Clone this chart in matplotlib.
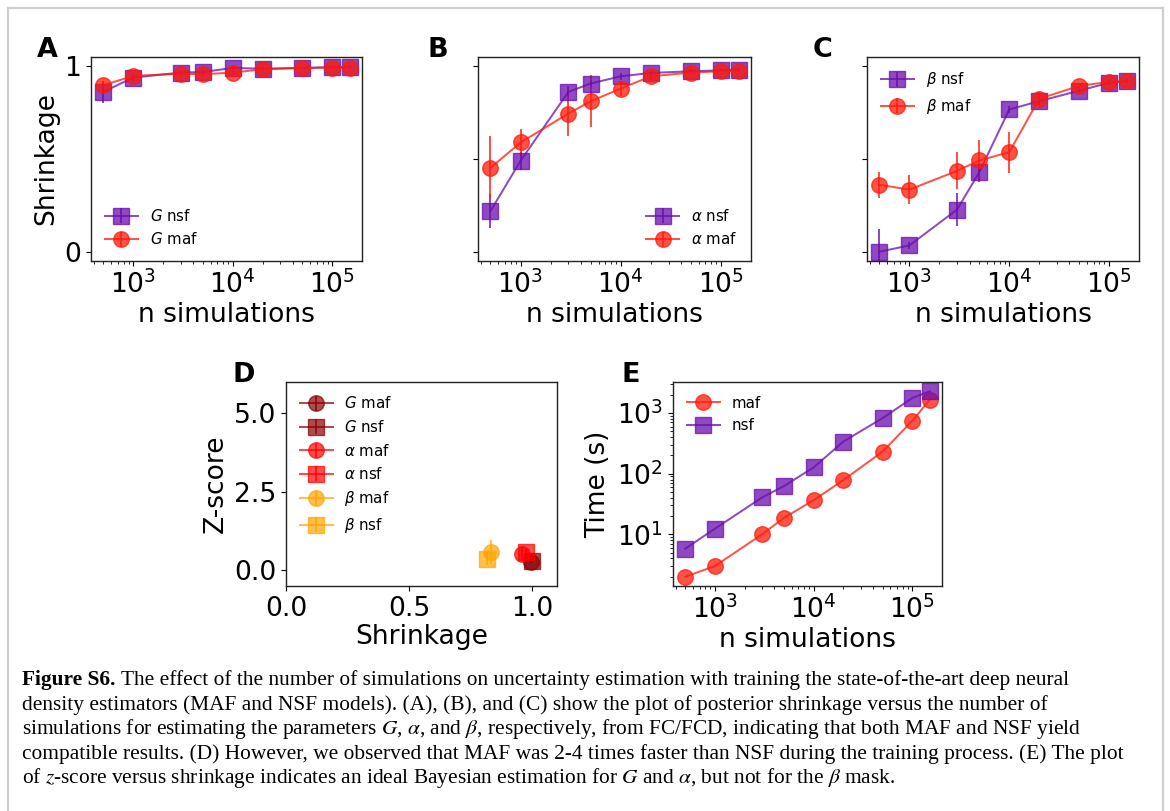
import numpy as np
import matplotlib
matplotlib.use("Agg")
import matplotlib.pyplot as plt
from matplotlib.lines import Line2D

# ---------------- data ----------------
n_sims = [500, 1000, 3000, 5000, 10000, 20000, 50000, 100000, 150000]

G_nsf = [0.862, 0.939, 0.966, 0.969, 0.991, 0.987, 0.991, 0.995, 0.995]
G_nsf_err = [0.06, 0.02, 0.01, 0.01, 0.01, 0.01, 0.005, 0.005, 0.005]
G_maf = [0.898, 0.948, 0.960, 0.957, 0.966, 0.984, 0.991, 0.993, 0.993]
G_maf_err = [0.02, 0.01, 0.01, 0.01, 0.01, 0.01, 0.005, 0.005, 0.005]

a_nsf = [0.219, 0.490, 0.862, 0.907, 0.946, 0.964, 0.973, 0.978, 0.982]
a_nsf_err = [0.09, 0.05, 0.03, 0.02, 0.02, 0.01, 0.01, 0.005, 0.005]
a_maf = [0.452, 0.589, 0.745, 0.811, 0.880, 0.946, 0.966, 0.973, 0.975]
a_maf_err = [0.17, 0.075, 0.12, 0.14, 0.04, 0.02, 0.01, 0.005, 0.005]

b_nsf = [0.000, 0.034, 0.227, 0.428, 0.767, 0.812, 0.868, 0.911, 0.920]
b_nsf_err = [0.12, 0.02, 0.09, 0.05, 0.02, 0.02, 0.01, 0.01, 0.01]
b_maf = [0.361, 0.335, 0.436, 0.492, 0.537, 0.825, 0.894, 0.916, 0.920]
b_maf_err = [0.07, 0.08, 0.10, 0.11, 0.11, 0.035, 0.01, 0.01, 0.01]

# panel D: (shrinkage, z-score, shrinkage err, z err)
D_labels = ["$G$ maf", "$G$ nsf", r"$\alpha$ maf", r"$\alpha$ nsf", r"$\beta$ maf", r"$\beta$ nsf"]
D_shrink = [0.996, 1.000, 0.956, 0.973, 0.832, 0.816]
D_z = [0.27, 0.30, 0.53, 0.585, 0.585, 0.37]
D_shrink_err = [0.01, 0.01, 0.02, 0.02, 0.02, 0.02]
D_z_err = [0.05, 0.05, 0.2, 0.1, 0.37, 0.2]

time_maf = [2.0, 3.0, 10.0, 18.7, 36.6, 78.5, 232, 746, 1665]
time_nsf = [5.8, 12.4, 40.5, 62.5, 127, 339, 826, 1774, 2286]

caption_lines = [
    "The effect of the number of simulations on uncertainty estimation with training the state-of-the-art deep neural",
    "density estimators (MAF and NSF models). (A), (B), and (C) show the plot of posterior shrinkage versus the number of",
    r"simulations for estimating the parameters $G$, $\alpha$, and $\beta$, respectively, from FC/FCD, indicating that both MAF and NSF yield",
    "compatible results. (D) However, we observed that MAF was 2-4 times faster than NSF during the training process. (E) The plot",
    r"of $z$-score versus shrinkage indicates an ideal Bayesian estimation for $G$ and $\alpha$, but not for the $\beta$ mask.",
]

# ---------------- style ----------------
W, H = 1170, 811
DPI = 100
PX = 72.0 / DPI  # points per pixel
NSF_C = "#6A0DAD"
MAF_C = "#ff1a0a"
ALPHA = 0.75
LAB = 26.5 * PX
LEG = 15.0 * PX
MS = 15.5 * PX
LW = 2.0 * PX

plt.rcParams["font.family"] = ["DejaVu Sans"]

fig = plt.figure(figsize=(W / DPI, H / DPI), dpi=DPI)


def ax_px(l, t, r, b):
    return fig.add_axes([l / W, 1 - b / H, (r - l) / W, (b - t) / H])


def style(ax):
    ax.tick_params(labelsize=LAB, width=0.8, length=3.5)
    ax.tick_params(which="minor", width=0.6, length=2)
    for s in ax.spines.values():
        s.set_linewidth(1.0)
        s.set_color("#222222")


def shrink_panel(ax, nsf, nsf_e, maf, maf_e, name, legloc, ylabels):
    ax.errorbar(n_sims, nsf, yerr=nsf_e, fmt="-s", color=NSF_C, alpha=ALPHA,
                ms=MS, lw=LW, elinewidth=LW, label=name + " nsf")
    ax.errorbar(n_sims, maf, yerr=maf_e, fmt="-o", color=MAF_C, alpha=ALPHA,
                ms=MS, lw=LW, elinewidth=LW, label=name + " maf")
    ax.set_xscale("log")
    ax.set_ylim(-0.05, 1.05)
    if ylabels:
        ax.set_yticks([0, 1])
        ax.set_yticklabels(["0", "1"])
        ax.set_ylabel("Shrinkage", fontsize=LAB)
    else:
        ax.set_yticks([0, 0.5, 1])
        ax.set_yticklabels([])
    ax.set_xlabel("n simulations", fontsize=LAB, labelpad=2)
    ax.legend(loc=legloc, frameon=False, fontsize=LEG, handlelength=2.2)
    style(ax)


axA = ax_px(91, 57, 362, 261)
shrink_panel(axA, G_nsf, G_nsf_err, G_maf, G_maf_err, "$G$", "lower left", True)
axB = ax_px(478, 57, 751, 261)
shrink_panel(axB, a_nsf, a_nsf_err, a_maf, a_maf_err, r"$\alpha$", "lower right", False)
axC = ax_px(867, 57, 1139, 261)
shrink_panel(axC, b_nsf, b_nsf_err, b_maf, b_maf_err, r"$\beta$", "upper left", False)

# Panel D
axD = ax_px(286, 382, 557, 586)
D_colors = ["darkred", "darkred", "red", "red", "orange", "orange"]
D_markers = ["o", "s", "o", "s", "o", "s"]
for xs, zs, xe, ze, c, m, lab in zip(D_shrink, D_z, D_shrink_err, D_z_err, D_colors, D_markers, D_labels):
    axD.errorbar([xs], [zs], yerr=[ze], fmt="-" + m, color=c, alpha=0.7,
                 ms=MS, lw=LW, elinewidth=LW, label=lab)
axD.set_xlim(0, 1.1)
axD.set_ylim(-0.5, 6)
axD.set_xticks([0, 0.5, 1.0])
axD.set_yticks([0, 2.5, 5.0])
axD.set_xlabel("Shrinkage", fontsize=LAB, labelpad=2)
axD.set_ylabel("Z-score", fontsize=LAB)
handles, labels = axD.get_legend_handles_labels()
axD.legend(handles, labels, loc="upper left", frameon=False, fontsize=LEG, handlelength=2.2)
style(axD)

# Panel E
axE = ax_px(673, 382, 942, 586)
axE.plot(n_sims, time_maf, "-o", color=MAF_C, alpha=ALPHA, ms=MS, lw=LW, label="maf")
axE.plot(n_sims, time_nsf, "-s", color=NSF_C, alpha=ALPHA, ms=MS, lw=LW, label="nsf")
axE.set_xscale("log")
axE.set_yscale("log")
axE.set_xlabel("n simulations", fontsize=LAB, labelpad=2)
axE.set_ylabel("Time (s)", fontsize=LAB)
axE.legend(loc="upper left", frameon=False, fontsize=LEG, handlelength=2.2)
style(axE)

# Panel letters
for lab, x, y in [("A", 37, 57), ("B", 427, 57), ("C", 813, 57), ("D", 233, 382), ("E", 622, 382)]:
    fig.text(x / W, 1 - y / H, lab, fontsize=27 * PX, fontweight="bold", ha="left", va="baseline")

# Frame lines
frame_c = "#cfcfcf"
fig.add_artist(Line2D([8 / W, 8 / W], [0, 1 - 8 / H], color=frame_c, lw=2.2 * PX))
fig.add_artist(Line2D([8 / W, 1163 / W], [1 - 8 / H, 1 - 8 / H], color=frame_c, lw=2.2 * PX))
fig.add_artist(Line2D([1163 / W, 1163 / W], [0, 1 - 8 / H], color=frame_c, lw=2.2 * PX))

# Caption
cap_size = 19.0 * PX
serif = ["Liberation Serif", "DejaVu Serif"]
baselines = [685, 710, 734, 759, 783]
fig.canvas.draw()
renderer = fig.canvas.get_renderer()
# fit font size on line 4
probe = fig.text(22 / W, 0.5, caption_lines[3], fontsize=cap_size, family=serif, math_fontfamily="stix")
wprobe = probe.get_window_extent(renderer).width
probe.remove()
cap_size = cap_size * (1122 - 22) / wprobe

bold = fig.text(22 / W, 1 - baselines[0] / H, "Figure S6.", fontsize=cap_size, family=serif,
                fontweight="bold", va="baseline")
bw = bold.get_window_extent(renderer).width
space = cap_size / PX * 0.25
fig.text((22 + bw + space) / W, 1 - baselines[0] / H, caption_lines[0], fontsize=cap_size,
         family=serif, va="baseline", math_fontfamily="stix")
for line, b in zip(caption_lines[1:], baselines[1:]):
    fig.text(22 / W, 1 - b / H, line, fontsize=cap_size, family=serif, va="baseline",
             math_fontfamily="stix")

fig.savefig("out.png", dpi=DPI)
